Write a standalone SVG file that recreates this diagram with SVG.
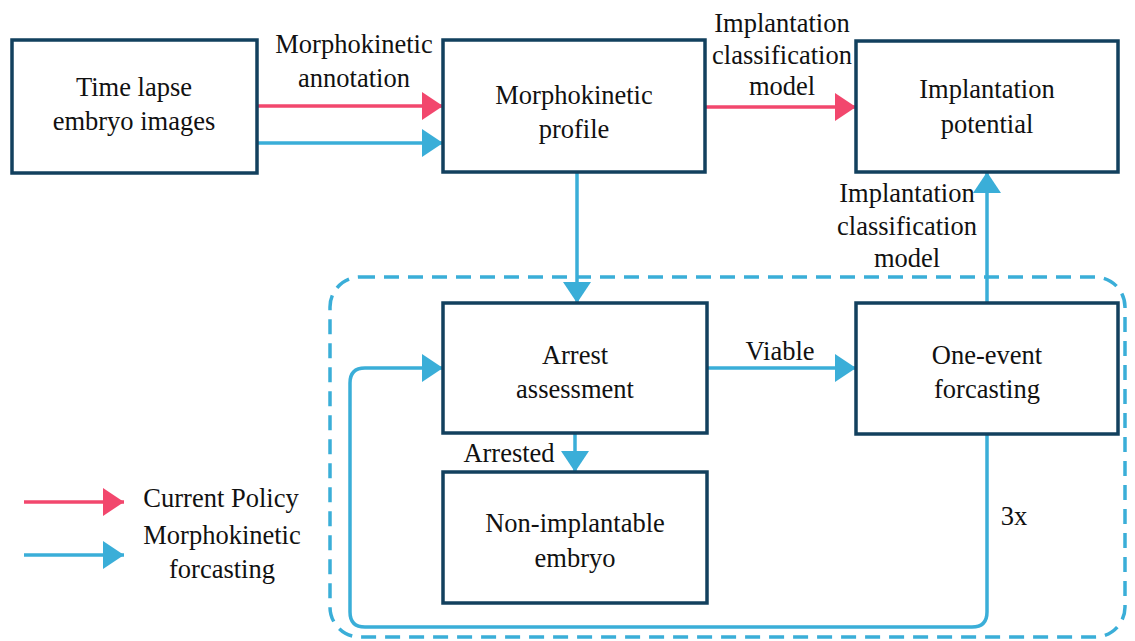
<svg xmlns="http://www.w3.org/2000/svg" width="1135" height="641" viewBox="0 0 1135 641">
<style>
.box{fill:#fff;stroke:#12405e;stroke-width:3.5}
.t{font-size:26.5px;fill:#111;text-anchor:middle}
.red{stroke:#f2476d;stroke-width:3.5;fill:none}
.blue{stroke:#3aaed8;stroke-width:3.5;fill:none}
</style>
<defs>
<marker id="ar" markerUnits="userSpaceOnUse" markerWidth="22" markerHeight="28" refX="21" refY="14" orient="auto" viewBox="0 0 22 28">
<path d="M0,0 L21,14 L0,28 z" fill="#f2476d"/>
</marker>
<marker id="ab" markerUnits="userSpaceOnUse" markerWidth="22" markerHeight="28" refX="21" refY="14" orient="auto" viewBox="0 0 22 28">
<path d="M0,0 L21,14 L0,28 z" fill="#3aaed8"/>
</marker>
</defs>
<rect x="330" y="277" width="795" height="360" rx="30" fill="none" stroke="#3aaed8" stroke-width="3.5" stroke-dasharray="15,9"/>
<g font-family="Liberation Serif, Times New Roman, Times, serif">
<g id="connectors">
<line class="red" x1="257" y1="106" x2="443" y2="106" marker-end="url(#ar)"/>
<line class="blue" x1="257" y1="143" x2="443" y2="143" marker-end="url(#ab)"/>
<line class="red" x1="705" y1="107" x2="856" y2="107" marker-end="url(#ar)"/>
<line class="blue" x1="577" y1="173" x2="577" y2="303" marker-end="url(#ab)"/>
<line class="blue" x1="987" y1="303" x2="987" y2="172" marker-end="url(#ab)"/>
<line class="blue" x1="707" y1="368" x2="856" y2="368" marker-end="url(#ab)"/>
<line class="blue" x1="575" y1="433" x2="575" y2="472" marker-end="url(#ab)"/>
<path class="blue" d="M987,434 L987,612 Q987,627 972,627 L365,627 Q350,627 350,612 L350,383 Q350,368 365,368 L443,368" marker-end="url(#ab)"/>
<text class="t" x="354" y="53">Morphokinetic</text>
<text class="t" x="354" y="87">annotation</text>
<text class="t" x="782" y="32">Implantation</text>
<text class="t" x="782" y="64">classification</text>
<text class="t" x="782" y="95">model</text>
<text class="t" x="907" y="202">Implantation</text>
<text class="t" x="907" y="235">classification</text>
<text class="t" x="907" y="267">model</text>
<text class="t" x="780" y="360">Viable</text>
<text class="t" x="509" y="462">Arrested</text>
<text class="t" x="1014" y="525">3x</text>
</g>
<g id="n1">
<rect class="box" x="12" y="40" width="245" height="133"/>
<text class="t" x="134" y="96">Time lapse</text>
<text class="t" x="134" y="130">embryo images</text>
</g>
<g id="n2">
<rect class="box" x="443" y="40" width="262" height="132"/>
<text class="t" x="574" y="104">Morphokinetic</text>
<text class="t" x="574" y="138">profile</text>
</g>
<g id="n3">
<rect class="box" x="856" y="41" width="262" height="131"/>
<text class="t" x="987" y="98">Implantation</text>
<text class="t" x="987" y="133">potential</text>
</g>
<g id="n4">
<rect class="box" x="443" y="303" width="264" height="130"/>
<text class="t" x="575" y="364">Arrest</text>
<text class="t" x="575" y="398">assessment</text>
</g>
<g id="n5">
<rect class="box" x="856" y="303" width="262" height="131"/>
<text class="t" x="987" y="364">One-event</text>
<text class="t" x="987" y="398">forcasting</text>
</g>
<g id="n6">
<rect class="box" x="443" y="472" width="264" height="131"/>
<text class="t" x="575" y="532">Non-implantable</text>
<text class="t" x="575" y="567">embryo</text>
</g>
<g id="legend">
<line class="red" x1="24" y1="502" x2="124" y2="502" marker-end="url(#ar)"/>
<line class="blue" x1="24" y1="555" x2="124" y2="555" marker-end="url(#ab)"/>
<text class="t" x="221" y="507">Current Policy</text>
<text class="t" x="222" y="544">Morphokinetic</text>
<text class="t" x="222" y="578">forcasting</text>
</g>
</g>
</svg>
